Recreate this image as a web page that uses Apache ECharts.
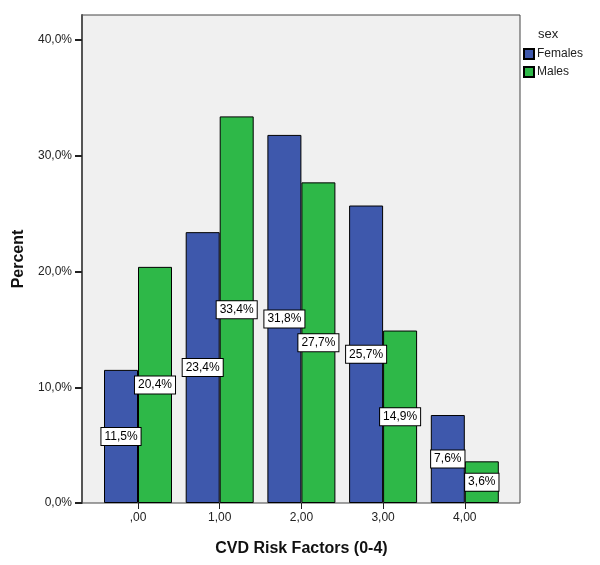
<!DOCTYPE html>
<html><head><meta charset="utf-8">
<script src="https://cdn.jsdelivr.net/npm/echarts@6/dist/echarts.min.js"></script>
<style>html,body{margin:0;padding:0;background:#fff}#c{width:600px;height:565px}</style>
</head><body><div id="c"></div>
<script>
const categories = [',00', '1,00', '2,00', '3,00', '4,00'];
const females = [11.5, 23.4, 31.8, 25.7, 7.6];
const males = [20.4, 33.4, 27.7, 14.9, 3.6];
const yTicks = [0, 10, 20, 30, 40];
const seriesNames = ['Females', 'Males'];

const F = 'Liberation Sans, Arial, sans-serif';
const fmt = v => v.toFixed(1).replace('.', ',') + '%';
const YMAX = 42.16;
const lbl = {
  show: true, position: 'inside', color: '#000', fontFamily: F, fontSize: 12,
  backgroundColor: '#fff', borderColor: '#000', borderWidth: 1, padding: [3, 3, 2, 3],
  formatter: p => fmt(p.value)
};
const chart = echarts.init(document.getElementById('c'));
chart.setOption({
  animation: false,
  textStyle: { fontFamily: F },
  title: { text: 'sex', left: 533, top: 23, textStyle: { fontSize: 13, fontWeight: 'normal', color: '#222', fontFamily: F } },
  legend: {
    orient: 'vertical', left: 523, top: 48, padding: 0, itemWidth: 10, itemHeight: 10, itemGap: 6,
    icon: 'rect', data: seriesNames,
    textStyle: { fontSize: 12, color: '#222', fontFamily: F, padding: [0, 0, 0, -2] }
  },
  grid: [
    { left: 82, top: 15, width: 438, height: 488, show: true, backgroundColor: '#f0f0f0', borderColor: '#444', borderWidth: 1, containLabel: false },
    { left: 97.15, top: 15, width: 408.5, height: 488, containLabel: false }
  ],
  xAxis: [
    { gridIndex: 0, type: 'value', show: false, min: 0, max: 1 },
    { gridIndex: 1, type: 'category', data: categories, boundaryGap: true,
      axisLine: { show: false },
      axisTick: { show: true, alignWithLabel: true, length: 6, lineStyle: { color: '#222', width: 1 } },
      axisLabel: { color: '#222', fontSize: 12, margin: 9, fontFamily: F },
      name: 'CVD Risk Factors (0-4)', nameLocation: 'middle', nameGap: 38,
      nameTextStyle: { fontSize: 16, fontWeight: 'bold', color: '#111', fontFamily: F }
    }
  ],
  yAxis: [
    { gridIndex: 0, type: 'value', min: 0, max: YMAX,
      axisLine: { show: true, lineStyle: { color: '#555', width: 2 } },
      axisTick: { show: true, length: 7, customValues: yTicks, lineStyle: { color: '#222', width: 2 } },
      axisLabel: { customValues: yTicks, color: '#222', fontSize: 12, margin: 10, fontFamily: F, formatter: v => fmt(v) },
      splitLine: { show: false },
      name: 'Percent', nameLocation: 'middle', nameGap: 52, nameRotate: 90,
      nameTextStyle: { fontSize: 16, fontWeight: 'bold', color: '#111', fontFamily: F }
    },
    { gridIndex: 1, type: 'value', min: 0, max: YMAX, show: false, splitLine: { show: false } }
  ],
  series: [
    { name: seriesNames[0], type: 'bar', xAxisIndex: 1, yAxisIndex: 1, data: females, barWidth: 34, barGap: '0%',
      itemStyle: { color: '#3e58ac', borderColor: '#000', borderWidth: 1 }, label: lbl },
    { name: seriesNames[1], type: 'bar', xAxisIndex: 1, yAxisIndex: 1, data: males, barWidth: 34, barGap: '0%',
      itemStyle: { color: '#2eb848', borderColor: '#000', borderWidth: 1 }, label: lbl }
  ]
});
</script></body></html>
